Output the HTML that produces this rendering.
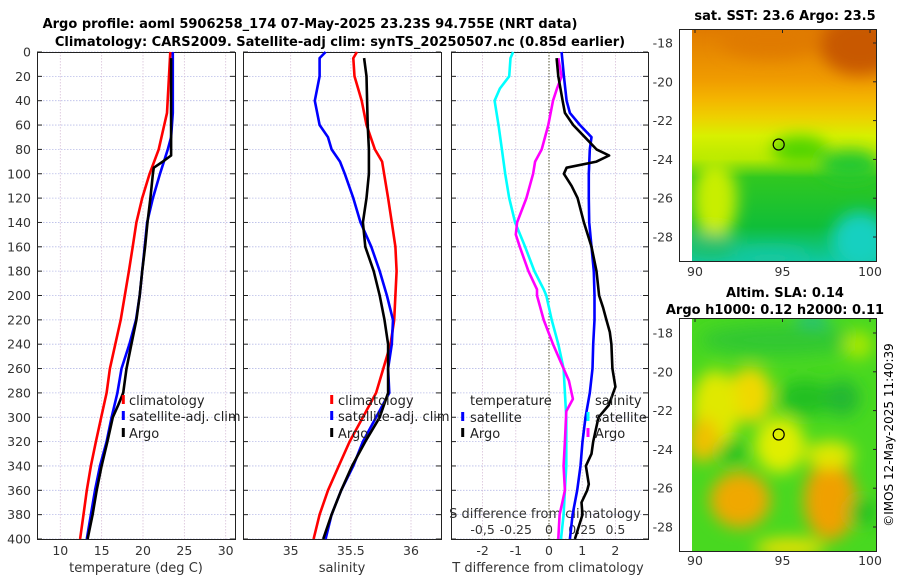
<!DOCTYPE html>
<html><head><meta charset="utf-8">
<style>
html,body{margin:0;padding:0;background:#fff;}
svg{display:block;font-family:"DejaVu Sans","Liberation Sans",sans-serif;}
</style></head>
<body>
<svg id="chart" width="900" height="580" viewBox="0 0 900 580" xmlns="http://www.w3.org/2000/svg">
<defs>
  <filter id="blur10" x="-30%" y="-30%" width="160%" height="160%"><feGaussianBlur stdDeviation="8"/></filter>
  <clipPath id="clipTop"><rect x="692" y="29" width="185" height="232"/></clipPath>
  <clipPath id="clipBot"><rect x="692" y="318" width="185" height="233"/></clipPath>
  <linearGradient id="sstGrad" x1="0" y1="0" x2="0" y2="1">
    <stop offset="0" stop-color="#e07a00"/>
    <stop offset="0.22" stop-color="#f09c00"/>
    <stop offset="0.3" stop-color="#f4b400"/>
    <stop offset="0.38" stop-color="#eed000"/>
    <stop offset="0.46" stop-color="#d8f000"/>
    <stop offset="0.56" stop-color="#b8ea00"/>
    <stop offset="0.64" stop-color="#30c820"/>
    <stop offset="0.85" stop-color="#10be38"/>
    <stop offset="1" stop-color="#10c8a0"/>
  </linearGradient>
</defs>

<g font-weight="bold" font-size="13" text-anchor="middle" fill="#000">
  <text x="310" y="28">Argo profile: aoml 5906258_174 07-May-2025 23.23S 94.755E (NRT data)</text>
  <text x="340" y="46">Climatology: CARS2009. Satellite-adj clim: synTS_20250507.nc (0.85d earlier)</text>
</g>

<g id="panels"></g>

<g>
  <text x="785" y="20" font-size="13" font-weight="bold" text-anchor="middle">sat. SST: 23.6 Argo: 23.5</text>
  <g clip-path="url(#clipTop)">
    <rect x="692" y="29" width="185" height="232" fill="url(#sstGrad)"/>
    <g filter="url(#blur10)">
      <ellipse cx="860" cy="45" rx="40" ry="30" fill="#c85800"/>
      <ellipse cx="770" cy="40" rx="50" ry="18" fill="#e07a00"/>
      <ellipse cx="715" cy="200" rx="22" ry="40" fill="#c8ee00"/>
      <ellipse cx="800" cy="150" rx="28" ry="14" fill="#50d400"/>
      <ellipse cx="860" cy="240" rx="28" ry="28" fill="#18d0c0"/>
      <ellipse cx="770" cy="258" rx="40" ry="10" fill="#18c8a0"/>
      <ellipse cx="710" cy="245" rx="25" ry="12" fill="#20c070"/>
      <ellipse cx="850" cy="165" rx="30" ry="15" fill="#20c830"/>
    </g>
  </g>
  <rect x="679.5" y="29.5" width="197" height="232" fill="none" stroke="#222" stroke-width="1"/>
  <circle cx="778.7" cy="144.5" r="5.5" fill="none" stroke="#000" stroke-width="1.2"/>
  <g id="sstTicks"></g>
</g>

<g>
  <text x="785" y="297" font-size="13" font-weight="bold" text-anchor="middle">Altim. SLA: 0.14</text>
  <text x="775" y="314" font-size="13" font-weight="bold" text-anchor="middle">Argo h1000: 0.12 h2000: 0.11</text>
  <g clip-path="url(#clipBot)">
    <rect x="692" y="318" width="185" height="233" fill="#48d820"/>
    <g filter="url(#blur10)">
      <ellipse cx="812" cy="322" rx="16" ry="10" fill="#20c080"/>
      <ellipse cx="780" cy="340" rx="80" ry="16" fill="#30c830"/>
      <ellipse cx="750" cy="395" rx="22" ry="28" fill="#f0d800"/>
      <ellipse cx="715" cy="410" rx="24" ry="40" fill="#e0e800"/>
      <ellipse cx="703" cy="440" rx="16" ry="22" fill="#f0c000"/>
      <ellipse cx="780" cy="445" rx="25" ry="28" fill="#e0ee00"/>
      <ellipse cx="733" cy="452" rx="13" ry="13" fill="#20c020"/>
      <ellipse cx="740" cy="500" rx="30" ry="28" fill="#f0a800"/>
      <ellipse cx="830" cy="500" rx="26" ry="40" fill="#f0a000"/>
      <ellipse cx="830" cy="455" rx="24" ry="14" fill="#e0e800"/>
      <ellipse cx="805" cy="398" rx="26" ry="18" fill="#20c020"/>
      <ellipse cx="842" cy="398" rx="18" ry="18" fill="#20b830"/>
      <ellipse cx="862" cy="512" rx="14" ry="14" fill="#20c020"/>
      <ellipse cx="858" cy="345" rx="15" ry="14" fill="#a8e800"/>
      <ellipse cx="790" cy="548" rx="35" ry="10" fill="#e8e000"/>
    </g>
  </g>
  <rect x="679.5" y="318.5" width="197" height="233" fill="none" stroke="#222" stroke-width="1"/>
  <circle cx="778.7" cy="434.5" r="5.5" fill="none" stroke="#000" stroke-width="1.2"/>
  <g id="slaTicks"></g>
</g>
<text x="893" y="435" font-size="12" text-anchor="middle" transform="rotate(-90 893 435)">©IMOS 12-May-2025 11:40:39</text>
</svg>

<script>
const depthTicks = [0,20,40,60,80,100,120,140,160,180,200,220,240,260,280,300,320,340,360,380,400];
const tempTicks = [10,15,20,25,30];
const salTicks = [35,35.5,36];
const salTickLabels = ["35","35.5","36"];
const tdiffTicks = [-2,-1,0,1,2];
const sdiffTicks = [-0.5,-0.25,0,0.25,0.5];
const sdiffTickLabels = ["-0,5","-0.25","0","0.25","0.5"];

const climDepth = [0,50,80,100,120,140,160,180,200,220,240,260,280,300,320,340,360,380,400];
const climTemp = [23.3,22.9,21.9,20.8,19.9,19.2,18.75,18.3,17.8,17.3,16.65,16.0,15.6,14.95,14.3,13.7,13.2,12.8,12.4];

const satTDepth = [0,50,70,80,100,120,140,160,180,200,220,240,260,280,300,320,340,360,380,400];
const satTemp = [23.6,23.6,23.4,23.0,22.05,21.2,20.5,20.2,19.9,19.6,19.15,18.35,17.4,16.9,16.2,15.6,14.8,14.2,13.7,13.2];

const argoTDepth = [5,80,85,90,95,100,120,140,160,180,200,220,240,260,280,290,300,320,340,360,380,400];
const argoTemp = [23.4,23.4,23.4,22.4,21.3,21.2,20.9,20.55,20.25,19.9,19.6,19.2,18.6,18.0,17.6,17.0,16.35,15.7,15.0,14.4,13.9,13.3];

const climSDepth = [0,5,20,40,60,80,90,120,140,160,180,200,220,240,260,280,300,320,340,360,380,400];
const climSal = [35.55,35.52,35.53,35.59,35.63,35.70,35.76,35.81,35.84,35.87,35.88,35.87,35.86,35.83,35.77,35.71,35.60,35.49,35.40,35.31,35.24,35.19];

const satSDepth = [0,5,20,40,60,70,80,90,100,120,140,160,180,200,220,240,260,280,300,320,340,360,380,400];
const satSal = [35.29,35.24,35.24,35.20,35.24,35.31,35.34,35.41,35.45,35.52,35.58,35.67,35.74,35.80,35.85,35.84,35.81,35.82,35.71,35.60,35.52,35.42,35.34,35.29];

const argoSDepth = [5,20,60,80,100,120,140,160,180,200,220,240,260,280,300,320,340,360,380,400];
const argoSal = [35.61,35.63,35.64,35.65,35.65,35.63,35.60,35.62,35.69,35.74,35.78,35.81,35.81,35.81,35.74,35.62,35.51,35.42,35.34,35.27];

const satSdiffDepth = [0,5,20,30,40,60,80,100,120,140,160,180,195,200,220,240,260,280,300,320,340,360,380,400];
const satSdiff = [-0.27,-0.29,-0.30,-0.37,-0.41,-0.38,-0.355,-0.33,-0.30,-0.255,-0.18,-0.11,-0.04,-0.02,0.02,0.07,0.11,0.12,0.13,0.13,0.13,0.12,0.11,0.09];

const argoSdiffDepth = [5,20,30,40,60,80,90,100,120,140,150,160,180,195,200,220,240,260,270,285,295,320,340,360,370,380,400];
const argoSdiff = [0.07,0.095,0.06,0.03,-0.005,-0.055,-0.105,-0.12,-0.17,-0.24,-0.25,-0.22,-0.155,-0.09,-0.09,-0.04,0.03,0.11,0.15,0.18,0.13,0.12,0.11,0.12,0.10,0.08,0.07];

const satTdiffDepth = [0,20,40,50,60,70,80,100,120,140,160,180,200,220,240,260,280,300,320,340,360,380,400];
const satTdiff = [0.38,0.45,0.53,0.63,0.93,1.28,1.23,1.2,1.2,1.21,1.28,1.35,1.37,1.37,1.33,1.31,1.23,1.1,1.01,0.95,0.85,0.71,0.63];

const argoTdiffDepth = [5,20,40,50,60,70,80,85,90,95,100,110,120,140,160,180,200,210,220,230,240,260,275,290,300,320,330,340,355,360,370,380,400];
const argoTdiff = [0.23,0.28,0.41,0.48,0.73,1.08,1.43,1.81,1.43,0.53,0.45,0.68,0.86,1.05,1.28,1.43,1.51,1.63,1.73,1.83,1.88,1.91,2.0,1.8,1.49,1.33,1.28,1.11,1.2,1.15,0.98,1.01,0.78];

const latTicks = [-18,-20,-22,-24,-26,-28];
const lonTicks = [90,95,100];

const NS = "http://www.w3.org/2000/svg";
const root = document.getElementById('panels');
function mk(tag, attrs, parent){ const e=document.createElementNS(NS,tag); for(const k in attrs) e.setAttribute(k,attrs[k]); (parent||root).appendChild(e); return e; }

const Y0=52, Y1=539;
const yScale = d => Y0 + (d/400)*(Y1-Y0);
const tScale = t => 60.3 + (t-10)*8.27;
const sScale = s => 290.7 + (s-35)*120.3;
const dScale = v => 549 + v*33.2;
const sdScale = v => 549 + v*4*33.2;

const panels = [{x0:37,x1:235,name:'temperature'},{x0:243,x1:441,name:'salinity'},{x0:451,x1:648,name:'difference'}];

panels.forEach((p,i)=>{
  const g = mk('g',{});
  
  
  depthTicks.forEach(d=>{
    const l = mk('line',{x1:p.x0,x2:p.x1,y1:yScale(d),y2:yScale(d),stroke:'#b8bce8','stroke-width':0.8,'stroke-dasharray':'1.5,1.5'},g);
    
    
  });
  let xt = i===0? tempTicks.map(tScale) : i===1? salTicks.map(sScale) : tdiffTicks.map(dScale);
  xt.forEach(x=>{
    const l = mk('line',{x1:x,x2:x,y1:Y0,y2:Y1,stroke:'#d8c0d8','stroke-width':0.8,'stroke-dasharray':'1.5,1.5'},g);
    
    
  });
  depthTicks.forEach(d=>{
    mk('line',{x1:p.x0,x2:p.x0+5,y1:yScale(d),y2:yScale(d),stroke:'#222','stroke-width':1},g);
    mk('line',{x1:p.x1-5,x2:p.x1,y1:yScale(d),y2:yScale(d),stroke:'#222','stroke-width':1},g);
  });
  const fr = mk('rect',{x:p.x0+0.5,y:Y0+0.5,width:p.x1-p.x0,height:Y1-Y0,fill:'none',stroke:'#222','stroke-width':1},g);
  
  
});

const yl = mk('g',{'font-size':12.5,'text-anchor':'end',fill:'#333'});


depthTicks.forEach(d=>{ const t=mk('text',{x:31,y:yScale(d)+4.5},yl); t.textContent=d; });

function xLabels(ticks, labels, scale, y, name){
  const g = mk('g',{'font-size':12.5,'text-anchor':'middle',fill:'#333'});
  
  
  ticks.forEach((v,i)=>{ const t=mk('text',{x:scale(v),y:y},g); t.textContent=labels[i]; });
}
xLabels(tempTicks, tempTicks.map(String), tScale, 555, 'temperature-x-tick-labels');
xLabels(salTicks, salTickLabels, sScale, 555, 'salinity-x-tick-labels');
xLabels(tdiffTicks, tdiffTicks.map(String), dScale, 555, 'tdiff-x-tick-labels');
xLabels(sdiffTicks, sdiffTickLabels, v=>549+v*132.8, 534, 'sdiff-x-tick-labels');

function title(x,y,txt,name){ const t=mk('text',{x:x,y:y,'font-size':13,'text-anchor':'middle',fill:'#333'}); t.textContent=txt;   }
title(136,572,'temperature (deg C)','temperature-x-axis-title');
title(342,572,'salinity','salinity-x-axis-title');
title(548,572,'T difference from climatology','tdiff-x-axis-title');
title(545,518,'S difference from climatology','sdiff-axis-title');

const zl = mk('line',{x1:dScale(0),x2:dScale(0),y1:Y0,y2:Y1,stroke:'#555533','stroke-width':1,'stroke-dasharray':'1.5,1.5'});



function series(depths, vals, xs, color, name){
  const pts = depths.map((d,i)=> xs(vals[i]).toFixed(1)+','+yScale(d).toFixed(1)).join(' ');
  const pl = mk('polyline',{points:pts,fill:'none',stroke:color,'stroke-width':2.6,'stroke-linejoin':'round'});
  
  
}
series(climDepth, climTemp, tScale, '#ff0000', 'climatology-temperature-line');
series(satTDepth, satTemp, tScale, '#0000ff', 'satellite-temperature-line');
series(argoTDepth, argoTemp, tScale, '#000000', 'argo-temperature-line');
series(climSDepth, climSal, sScale, '#ff0000', 'climatology-salinity-line');
series(satSDepth, satSal, sScale, '#0000ff', 'satellite-salinity-line');
series(argoSDepth, argoSal, sScale, '#000000', 'argo-salinity-line');
series(satSdiffDepth, satSdiff, sdScale, '#00ffff', 'satellite-salinity-diff-line');
series(argoSdiffDepth, argoSdiff, sdScale, '#ff00ff', 'argo-salinity-diff-line');
series(satTdiffDepth, satTdiff, dScale, '#0000ff', 'satellite-temperature-diff-line');
series(argoTdiffDepth, argoTdiff, dScale, '#000000', 'argo-temperature-diff-line');

function legendEntry(mx, tx, y, color, txt, name){
  const g = mk('g',{});
  
  
  if(color) mk('line',{x1:mx,x2:mx,y1:y-10,y2:y-1,stroke:color,'stroke-width':3},g);
  const t = mk('text',{x:tx,y:y,'font-size':13,fill:'#222'},g); t.textContent=txt;
}
legendEntry(123.3,129,405,'#ff0000','climatology','legend-entry-climatology');
legendEntry(123.3,129,421,'#0000ff','satellite-adj. clim','legend-entry-satellite');
legendEntry(123.3,129,438,'#000000','Argo','legend-entry-argo');
legendEntry(331.7,338,405,'#ff0000','climatology','legend-entry-climatology-sal');
legendEntry(331.7,338,421,'#0000ff','satellite-adj. clim','legend-entry-satellite-sal');
legendEntry(331.7,338,438,'#000000','Argo','legend-entry-argo-sal');
legendEntry(0,470,405,null,'temperature','legend-header-temperature');
legendEntry(462.7,470,422,'#0000ff','satellite','legend-entry-t-satellite');
legendEntry(462.7,470,438,'#000000','Argo','legend-entry-t-argo');
legendEntry(0,595,405,null,'salinity','legend-header-salinity');
legendEntry(588,595,422,'#00ffff','satellite','legend-entry-s-satellite');
legendEntry(588,595,438,'#ff00ff','Argo','legend-entry-s-argo');

function mapTicks(gid, latTop, latBottom, yTop, yBot, lonLabelY){
  const g = document.getElementById(gid);
  const latY = l => latTop + (-18 - l)*(latBottom-latTop)/10;
  latTicks.forEach(l=>{
    const t = mk('text',{x:673,y:latY(l)+4.5,'font-size':12.5,'text-anchor':'end',fill:'#333'},g); t.textContent=l;
    mk('line',{x1:873,x2:877,y1:latY(l),y2:latY(l),stroke:'#222'},g);
  });
  const lonX = lo => 695 + (lo-90)*17.5;
  lonTicks.forEach(lo=>{
    const t = mk('text',{x:lonX(lo),y:lonLabelY,'font-size':12.5,'text-anchor':'middle',fill:'#333'},g); t.textContent=lo;
    mk('line',{x1:lonX(lo),x2:lonX(lo),y1:yTop,y2:yTop+4,stroke:'#222'},g);
  });
}
mapTicks('sstTicks', 43, 237, 29, 261, 276);
mapTicks('slaTicks', 333, 527, 318, 551, 565);
</script>
</body></html>
